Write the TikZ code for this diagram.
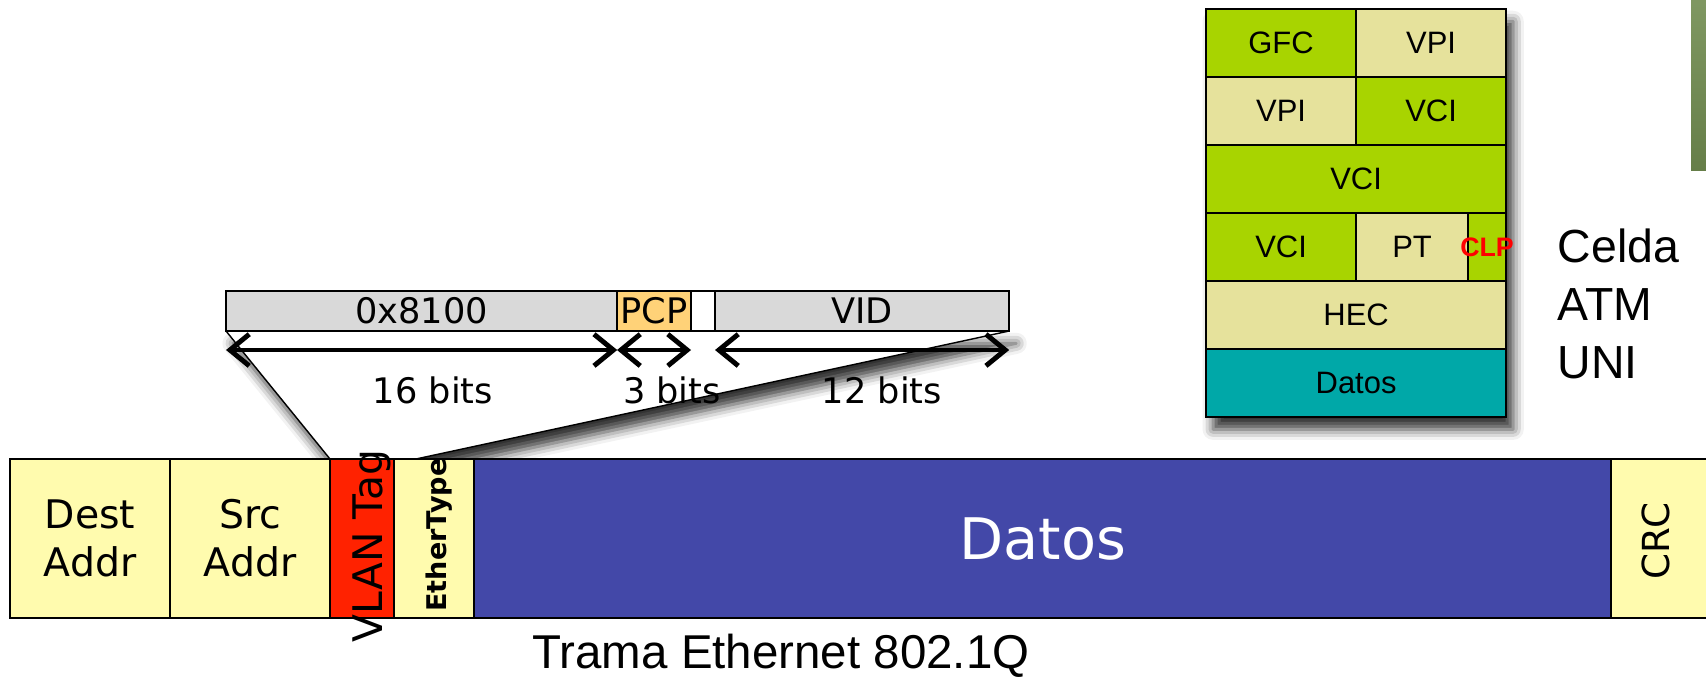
\documentclass[tikz,border=0pt]{standalone}
\usepackage{fontspec}
\setmainfont{Liberation Sans}
\newfontfamily\comicfont{DejaVu Sans}
\usepackage{tikz}
\usetikzlibrary{arrows.meta,backgrounds,shadows.blur}

\definecolor{ethyellow}{HTML}{FFFBAE}
\definecolor{vlanred}{HTML}{FF2200}
\definecolor{datosblue}{HTML}{4348A8}
\definecolor{taggray}{HTML}{D9D9D9}
\definecolor{pcporange}{HTML}{FFD278}
\definecolor{atmgreen}{HTML}{A8D400}
\definecolor{atmpale}{HTML}{E6E29C}
\definecolor{atmteal}{HTML}{00A8A8}
\definecolor{stripgreen}{HTML}{718C50}

\tikzset{
    campo/.style={
           rectangle,
           draw=black, line width=0.6pt,
           inner sep=0pt, outer sep=0pt,
           anchor=north west,
           align=center},
    eth/.style={campo, minimum height=1.59cm,
           font=\comicfont\fontsize{11.2}{13.7}\selectfont},% trama ethernet
    tagbit/.style={campo, fill=taggray, minimum height=0.4cm,
           font=\comicfont\fontsize{10}{12}\selectfont},% cabecera 802.1Q
    atm/.style={campo, minimum height=0.68cm,
           font=\fontsize{8.8}{10}\selectfont},% celda ATM
    vertical/.style={rotate=90, inner sep=0pt, font=\comicfont\fontsize{11.2}{13}\selectfont},
    bits/.style={inner sep=0pt, font=\comicfont\fontsize{10}{12}\selectfont},
    medida/.style={line width=1.4pt, line cap=round,
           {Straight Barb[length=5.5pt,width=9pt]}-{Straight Barb[length=5.5pt,width=9pt]}},
    sombra/.style={fill=white, blur shadow={shadow xshift=2pt, shadow yshift=-3.5pt,
           shadow blur radius=3pt, shadow opacity=80}}
    }

\begin{document}
\begin{tikzpicture}[x=0.01cm, y=-0.01cm]
      \useasboundingbox (0,0) rectangle (1706,677);
      \clip (0,0) rectangle (1706,677);
      \shade[top color=stripgreen!90!white, bottom color=stripgreen!90!black] (1691,0) rectangle (1706,171);

      % trama ethernet 802.1Q
      \node[eth, fill=ethyellow, minimum width=1.6cm] (dest) at (10,459) {Dest\\Addr};
      \node[eth, fill=ethyellow, minimum width=1.6cm] (src) at (170,459) {Src\\Addr};
      \node[eth, fill=vlanred, minimum width=0.64cm] (vlan) at (330,459) {};
      \node[eth, fill=ethyellow, minimum width=0.8cm] (ethtype) at (394,459) {};
      \node[eth, fill=datosblue, minimum width=11.37cm, text=white,
            font=\comicfont\fontsize{16.3}{18}\selectfont] (datos) at (474,459) {Datos};
      \node[eth, fill=ethyellow, minimum width=1.3cm] (crc) at (1611,459) {};
      \node[vertical, font=\comicfont\fontsize{11.6}{13}\selectfont] (vlanlbl) at (372,546) {VLAN Tag};
      \node[vertical, font=\comicfont\bfseries\fontsize{7.7}{9}\selectfont] (ethlbl) at (439,535) {EtherType};
      \node[vertical, font=\comicfont\fontsize{10.6}{12}\selectfont] (crclbl) at (1656,541) {CRC};
      \node[anchor=base, inner sep=0pt, font=\fontsize{13.5}{15}\selectfont] (trama) at (781,669) {Trama Ethernet 802.1Q};

      % cabecera de la etiqueta
      \node[tagbit, minimum width=3.91cm] (ethtag) at (226,291) {0x8100};
      \node[tagbit, fill=pcporange, minimum width=0.74cm] (pcp) at (617,291) {PCP};
      \node[tagbit, fill=white, minimum width=0.24cm] (cfi) at (691,291) {};
      \node[tagbit, minimum width=2.94cm] (vid) at (715,291) {VID};
      \coordinate (tagfin) at (416,459);
      \draw[line width=0.4pt] (ethtag.south west) -- (vlan.north west);
      \draw[line width=0.4pt] (vid.south east) -- (tagfin);
      \draw[medida] ([yshift=-0.19cm]ethtag.south west) -- ([yshift=-0.19cm]ethtag.south east);
      \draw[medida] ([yshift=-0.19cm]pcp.south west) -- ([yshift=-0.19cm]pcp.south east);
      \draw[medida] ([yshift=-0.19cm]vid.south west) -- ([yshift=-0.19cm]vid.south east);
      \node[bits] (b16) at (433,390) {16 bits};
      \node[bits] (b3) at (672,390) {3 bits};
      \node[bits] (b12) at (882,390) {12 bits};

      % celda ATM UNI
      \node[atm, fill=atmgreen, minimum width=1.5cm] (gfc) at (1206,9) {GFC};
      \node[atm, fill=atmpale, minimum width=1.5cm] (vpia) at (1356,9) {VPI};
      \node[atm, fill=atmpale, minimum width=1.5cm] (vpib) at (1206,77) {VPI};
      \node[atm, fill=atmgreen, minimum width=1.5cm] (vcia) at (1356,77) {VCI};
      \node[atm, fill=atmgreen, minimum width=3cm] (vcib) at (1206,145) {VCI};
      \node[atm, fill=atmgreen, minimum width=1.5cm] (vcic) at (1206,213) {VCI};
      \node[atm, fill=atmpale, minimum width=1.12cm] (pt) at (1356,213) {PT};
      \node[atm, fill=atmgreen, minimum width=0.38cm] (clp) at (1468,213) {};
      \node[atm, fill=atmpale, minimum width=3cm] (hec) at (1206,281) {HEC};
      \node[atm, fill=atmteal, minimum width=3cm] (datosatm) at (1206,349) {Datos};
      \node[inner sep=0pt, text=red, font=\bfseries\fontsize{7.6}{9}\selectfont] (clplbl) at (clp.center) {CLP};
      \node[anchor=west, align=left, inner sep=0pt, font=\fontsize{13.2}{16.4}\selectfont] (celda) at (1557,304) {Celda\\ATM\\UNI};

      \begin{pgfonlayer}{background}
        \path[sombra] (ethtag.south west) -- (vid.south east) -- (tagfin) -- (vlan.north west) -- cycle;
        \path[sombra] (gfc.north west) rectangle (datosatm.south east);
      \end{pgfonlayer}
\end{tikzpicture}
\end{document}
